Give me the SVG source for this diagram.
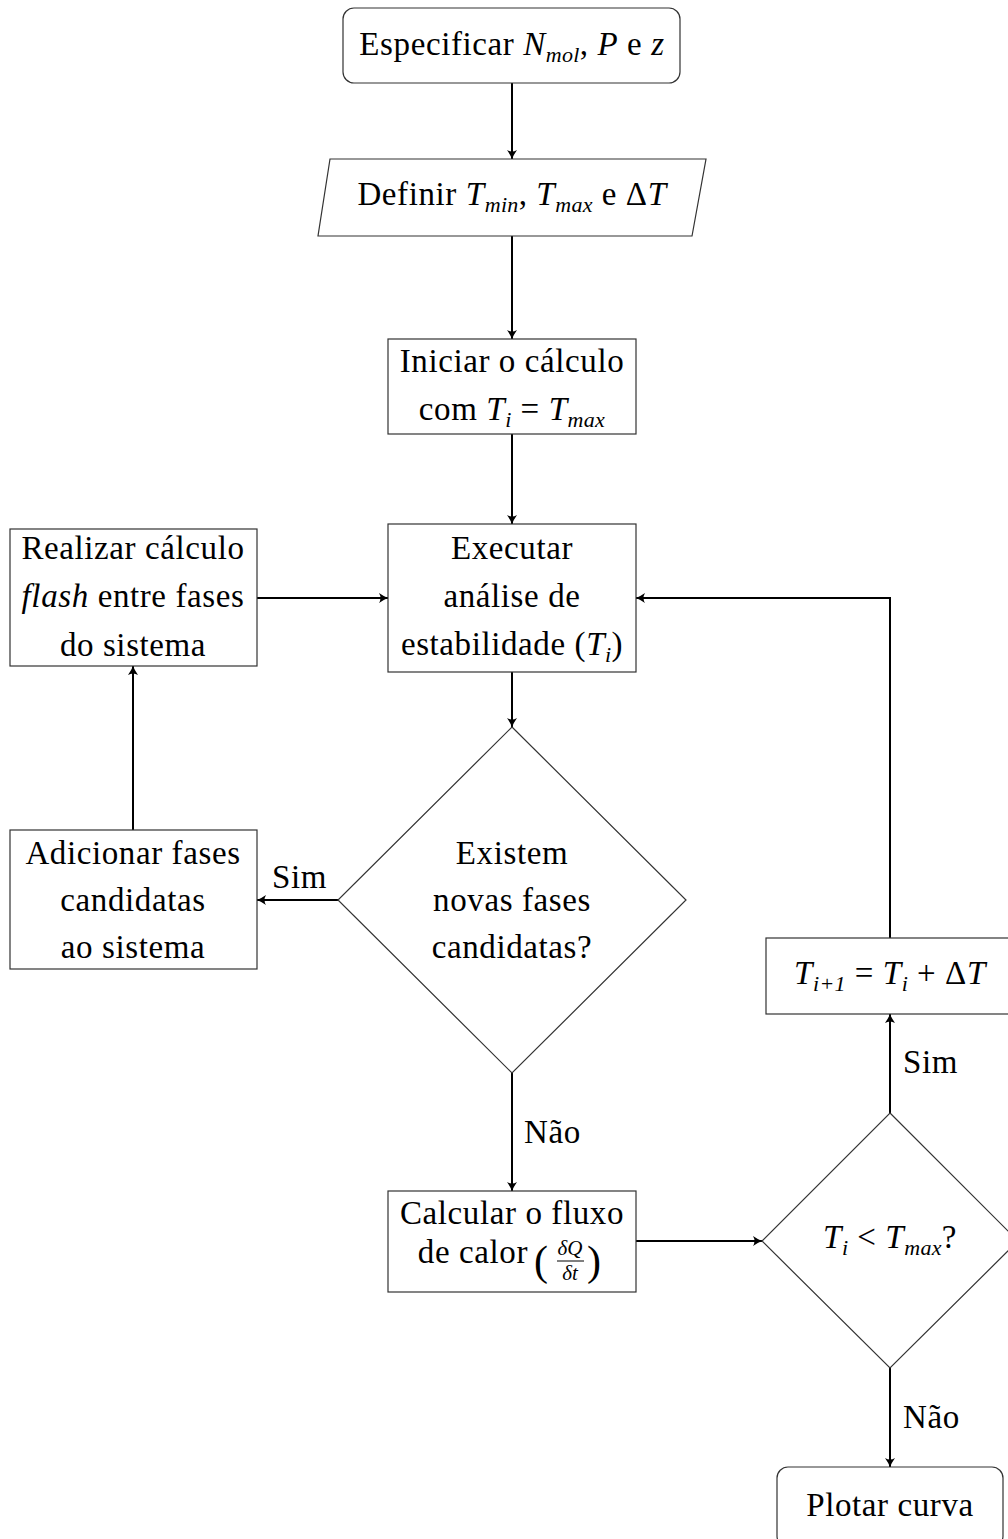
<svg xmlns="http://www.w3.org/2000/svg" width="1008" height="1539" viewBox="0 0 1008 1539">
<style>
text{font-family:"Liberation Serif","Times New Roman",serif;font-size:33px;letter-spacing:0.6px;fill:#000;text-anchor:middle}
.m{font-style:italic}
.s{font-size:22px;font-style:italic;letter-spacing:0.3px}
.shape{fill:#fff;stroke:#333;stroke-width:1.2}
.c{fill:none;stroke:#000;stroke-width:2;marker-end:url(#ah)}
.lbl{text-anchor:start}
</style>
<defs>
<marker id="ah" viewBox="-11 -6 12 12" refX="0" refY="0" markerWidth="12" markerHeight="12" orient="auto" markerUnits="userSpaceOnUse">
<path d="M0,0 Q-4,-1.5 -9,-5 Q-6,0 -9,5 Q-4,1.5 0,0 Z" fill="#000"/>
</marker>
</defs>
<rect width="1008" height="1539" fill="#fff"/>

<g id="connectors">
<line class="c" x1="512" y1="83" x2="512" y2="159"/>
<line class="c" x1="512" y1="236" x2="512" y2="339"/>
<line class="c" x1="512" y1="434" x2="512" y2="524"/>
<line class="c" x1="257" y1="598" x2="388" y2="598"/>
<line class="c" x1="512" y1="672" x2="512" y2="727"/>
<line class="c" x1="338" y1="900" x2="257" y2="900"/>
<line class="c" x1="133" y1="830" x2="133" y2="666"/>
<line class="c" x1="512" y1="1073" x2="512" y2="1191"/>
<line class="c" x1="636" y1="1241" x2="762" y2="1241"/>
<line class="c" x1="890" y1="1113" x2="890" y2="1014"/>
<polyline class="c" points="890,938 890,598 636,598"/>
<line class="c" x1="890" y1="1368" x2="890" y2="1467"/>
<text class="lbl" x="272" y="888">Sim</text>
<text class="lbl" x="524" y="1143">Não</text>
<text class="lbl" x="903" y="1073">Sim</text>
<text class="lbl" x="903" y="1428">Não</text>
</g>

<g id="n1">
<rect class="shape" x="343" y="8" width="337" height="75" rx="11"/>
<text x="512" y="55">Especificar <tspan class="m">N</tspan><tspan class="s" dy="7">mol</tspan><tspan dy="-7">, </tspan><tspan class="m">P</tspan> e <tspan class="m">z</tspan></text>
</g>

<g id="n2">
<polygon class="shape" points="330,159 706,159 692,236 318,236"/>
<text x="512" y="205">Definir <tspan class="m">T</tspan><tspan class="s" dy="7">min</tspan><tspan dy="-7">, </tspan><tspan class="m">T</tspan><tspan class="s" dy="7">max</tspan><tspan dy="-7"> e Δ</tspan><tspan class="m">T</tspan></text>
</g>

<g id="n3">
<rect class="shape" x="388" y="339" width="248" height="95"/>
<text x="512" y="372">Iniciar o cálculo</text>
<text x="512" y="420">com <tspan class="m">T</tspan><tspan class="s" dy="7">i</tspan><tspan dy="-7"> = </tspan><tspan class="m">T</tspan><tspan class="s" dy="7">max</tspan></text>
</g>

<g id="n4">
<rect class="shape" x="388" y="524" width="248" height="148"/>
<text x="512" y="559">Executar</text>
<text x="512" y="607">análise de</text>
<text x="512" y="655">estabilidade (<tspan class="m">T</tspan><tspan class="s" dy="7">i</tspan><tspan dy="-7">)</tspan></text>
</g>

<g id="n5">
<rect class="shape" x="10" y="529" width="247" height="137"/>
<text x="133" y="559">Realizar cálculo</text>
<text x="133" y="607"><tspan class="m">flash</tspan> entre fases</text>
<text x="133" y="656">do sistema</text>
</g>

<g id="n6">
<polygon class="shape" points="512,727 686,900 512,1073 338,900"/>
<text x="512" y="864">Existem</text>
<text x="512" y="911">novas fases</text>
<text x="512" y="958">candidatas?</text>
</g>

<g id="n7">
<rect class="shape" x="10" y="830" width="247" height="139"/>
<text x="133" y="864">Adicionar fases</text>
<text x="133" y="911">candidatas</text>
<text x="133" y="958">ao sistema</text>
</g>

<g id="n8">
<rect class="shape" x="388" y="1191" width="248" height="101"/>
<text x="512" y="1224">Calcular o fluxo</text>
<text x="528" y="1263" style="text-anchor:end">de calor</text>
<text x="541" y="1275" style="font-size:42px;letter-spacing:0">(</text>
<text x="570" y="1255" style="font-size:21px;letter-spacing:0"><tspan class="m" style="font-size:21px">δQ</tspan></text>
<line x1="557" y1="1261" x2="584" y2="1261" stroke="#000" stroke-width="1"/>
<text x="570" y="1280" style="font-size:21px;letter-spacing:0"><tspan class="m" style="font-size:21px">δt</tspan></text>
<text x="594" y="1275" style="font-size:42px;letter-spacing:0">)</text>
</g>

<g id="n9">
<polygon class="shape" points="890,1113 1018,1241 890,1368 762,1241"/>
<text x="890" y="1248"><tspan class="m">T</tspan><tspan class="s" dy="7">i</tspan><tspan dy="-7"> &lt; </tspan><tspan class="m">T</tspan><tspan class="s" dy="7">max</tspan><tspan dy="-7">?</tspan></text>
</g>

<g id="n10">
<rect class="shape" x="766" y="938" width="248" height="76"/>
<text x="890" y="984"><tspan class="m">T</tspan><tspan class="s" dy="7">i+1</tspan><tspan dy="-7"> = </tspan><tspan class="m">T</tspan><tspan class="s" dy="7">i</tspan><tspan dy="-7"> + Δ</tspan><tspan class="m">T</tspan></text>
</g>

<g id="n11">
<rect class="shape" x="777" y="1467" width="226" height="80" rx="11"/>
<text x="890" y="1516">Plotar curva</text>
</g>
</svg>
